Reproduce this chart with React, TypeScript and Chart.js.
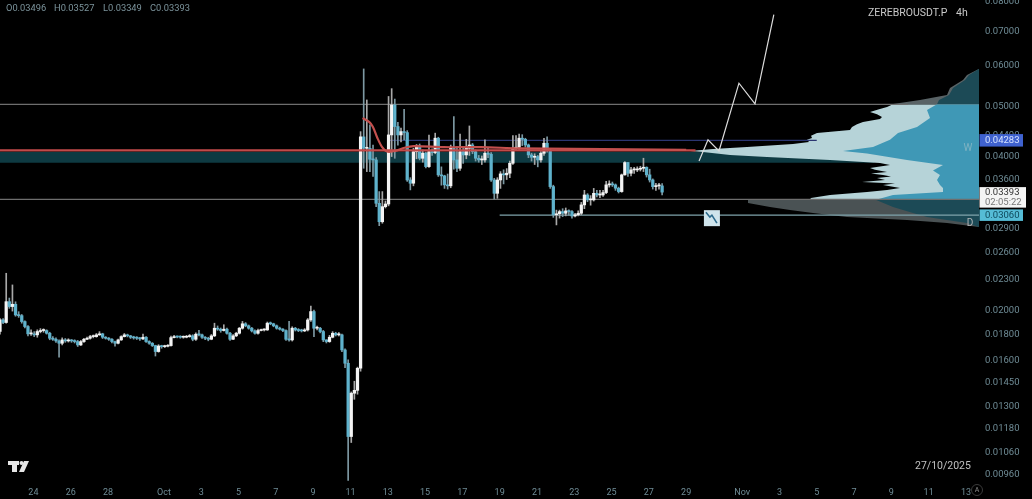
import React, { useEffect, useRef } from "react";
import { Chart, registerables } from "chart.js";

Chart.register(...registerables);

const firstOpen = 0.01816;
const closes = [
  0.01913, 0.01891, 0.02076, 0.02031, 0.02052, 0.01956, 0.0195, 0.01899, 0.01857, 0.01797,
  0.01797, 0.01789, 0.01816, 0.01824, 0.01824, 0.01802, 0.01762, 0.01754, 0.01741, 0.01723,
  0.01749, 0.01741, 0.01744, 0.01741, 0.01736, 0.0171, 0.01736, 0.01754, 0.01762, 0.01775,
  0.01775, 0.01789, 0.01797, 0.0177, 0.01762, 0.01754, 0.01736, 0.01723, 0.01749, 0.01775,
  0.01789, 0.01781, 0.0177, 0.01765, 0.01762, 0.01757, 0.0177, 0.01736, 0.01723, 0.01705,
  0.0166, 0.01702, 0.01697, 0.017, 0.01705, 0.01767, 0.01775, 0.01772, 0.0177, 0.0177,
  0.01775, 0.01781, 0.01754, 0.01794, 0.01789, 0.0177, 0.01762, 0.01754, 0.01781, 0.01843,
  0.01835, 0.01824, 0.01835, 0.01802, 0.01754, 0.01781, 0.01802, 0.01843, 0.0188, 0.01863,
  0.01843, 0.01821, 0.01802, 0.01824, 0.01829, 0.01829, 0.01885, 0.0188, 0.01863, 0.01843,
  0.01835, 0.01824, 0.01754, 0.01749, 0.01843, 0.01829, 0.01824, 0.01821, 0.01829, 0.01913,
  0.01986, 0.01843, 0.01843, 0.01816, 0.01749, 0.01736, 0.0177, 0.01802, 0.01789, 0.01789,
  0.01672, 0.01575, 0.01134, 0.01377, 0.01395, 0.0154, 0.04346, 0.0413, 0.0413, 0.03932,
  0.0392, 0.03227, 0.02971, 0.03179, 0.03217, 0.04385, 0.05016, 0.04552, 0.04385, 0.04451,
  0.04431, 0.03583, 0.03531, 0.04069, 0.04174, 0.03949, 0.04039, 0.03804, 0.04069, 0.04051,
  0.04321, 0.03666, 0.03649, 0.03505, 0.0349, 0.04149, 0.0392, 0.03776, 0.04069, 0.04009,
  0.0413, 0.04192, 0.04069, 0.03949, 0.0392, 0.0392, 0.04039, 0.04021, 0.03583, 0.03375,
  0.03583, 0.03682, 0.03666, 0.03693, 0.03862, 0.0413, 0.04149, 0.04321, 0.043, 0.04192,
  0.04009, 0.03967, 0.03979, 0.0392, 0.04039, 0.04224, 0.041, 0.03478, 0.03065, 0.03079,
  0.03109, 0.03086, 0.03119, 0.03109, 0.03049, 0.03065, 0.03086, 0.03204, 0.0335, 0.03277,
  0.03277, 0.03375, 0.0335, 0.0335, 0.03386, 0.03505, 0.03521, 0.03505, 0.03453, 0.03401,
  0.03666, 0.03874, 0.03693, 0.03748, 0.03748, 0.0376, 0.03776, 0.03793, 0.03666, 0.03583,
  0.03478, 0.03489, 0.03489, 0.03393,
];
const highs = [
  0.01925, 0.01925, 0.02358, 0.0211, 0.02238, 0.02075, 0.01985, 0.0196, 0.01905, 0.01865,
  0.0183, 0.01815, 0.0183, 0.0184, 0.01838, 0.0183, 0.0181, 0.01775, 0.01765, 0.0175,
  0.01765, 0.0176, 0.01758, 0.01752, 0.0175, 0.01745, 0.01745, 0.01762, 0.01772, 0.01785,
  0.01788, 0.018, 0.01815, 0.01802, 0.01775, 0.01768, 0.0176, 0.0174, 0.01755, 0.01782,
  0.018, 0.01795, 0.01785, 0.01778, 0.01775, 0.0177, 0.01795, 0.01775, 0.01742, 0.01728,
  0.01708, 0.01712, 0.01708, 0.01708, 0.01712, 0.0178, 0.01785, 0.0178, 0.01782, 0.0178,
  0.01785, 0.01792, 0.0179, 0.01805, 0.01825, 0.01795, 0.01775, 0.0177, 0.01792, 0.01885,
  0.01862, 0.01845, 0.01872, 0.01845, 0.0181, 0.01792, 0.0181, 0.0185, 0.019, 0.0189,
  0.0187, 0.0185, 0.0183, 0.01835, 0.01835, 0.01838, 0.01895, 0.01895, 0.01885, 0.0187,
  0.01852, 0.0184, 0.0183, 0.019, 0.01855, 0.0185, 0.0184, 0.01835, 0.0184, 0.01925,
  0.02036, 0.02, 0.0186, 0.0185, 0.01825, 0.0175, 0.01785, 0.01815, 0.0181, 0.01808,
  0.01795, 0.0168, 0.016, 0.01385, 0.01453, 0.01548, 0.0445, 0.05895, 0.0513, 0.0459,
  0.0419, 0.0396, 0.03401, 0.03401, 0.0326, 0.0521, 0.05396, 0.0515, 0.0464, 0.0452,
  0.04917, 0.0447, 0.0362, 0.0413, 0.042, 0.0421, 0.041, 0.0406, 0.0438, 0.0412,
  0.0442, 0.0434, 0.038, 0.0366, 0.0368, 0.0419, 0.0476, 0.0416, 0.044, 0.0413,
  0.043, 0.04565, 0.0422, 0.041, 0.04, 0.0399, 0.0429, 0.0415, 0.0405, 0.0361,
  0.0362, 0.0372, 0.0375, 0.0377, 0.039, 0.0437, 0.0437, 0.044, 0.0439, 0.0432,
  0.0421, 0.0404, 0.0403, 0.04, 0.0407, 0.0432, 0.0435, 0.0412, 0.035, 0.0313,
  0.0313, 0.0315, 0.0316, 0.03135, 0.03125, 0.03085, 0.0312, 0.0324, 0.0342, 0.0337,
  0.0334, 0.0345, 0.0342, 0.0342, 0.0342, 0.0356, 0.0357, 0.0355, 0.0352, 0.0347,
  0.0368, 0.0389, 0.0388, 0.0379, 0.0379, 0.038, 0.0381, 0.0395, 0.038, 0.0376,
  0.036, 0.0353, 0.0353, 0.03527,
];
const lows = [
  0.01795, 0.0188, 0.01885, 0.02015, 0.0199, 0.01945, 0.01935, 0.01885, 0.01845, 0.0178,
  0.01785, 0.01775, 0.0177, 0.01805, 0.0181, 0.01795, 0.0175, 0.01745, 0.0173, 0.01618,
  0.0171, 0.0173, 0.01732, 0.0173, 0.01725, 0.01698, 0.01705, 0.0173, 0.0175, 0.01755,
  0.01765, 0.0177, 0.01785, 0.0176, 0.01755, 0.01745, 0.01725, 0.017, 0.01718, 0.01745,
  0.01772, 0.01772, 0.0176, 0.01755, 0.01752, 0.01745, 0.0175, 0.0173, 0.01715, 0.01698,
  0.01627, 0.01655, 0.01685, 0.0169, 0.01695, 0.017, 0.01765, 0.01765, 0.01762, 0.01762,
  0.01765, 0.0177, 0.01742, 0.01745, 0.0178, 0.0176, 0.0175, 0.01742, 0.0175, 0.01775,
  0.01825, 0.0181, 0.0182, 0.01795, 0.01745, 0.0175, 0.01775, 0.01795, 0.01835, 0.01855,
  0.01835, 0.01812, 0.01795, 0.01795, 0.0182, 0.0182, 0.01825, 0.01872, 0.01855, 0.01835,
  0.01828, 0.01815, 0.01745, 0.0174, 0.0174, 0.0182, 0.01815, 0.01812, 0.01815, 0.0182,
  0.019, 0.01775, 0.0183, 0.01805, 0.01735, 0.01725, 0.0173, 0.01765, 0.0178, 0.0178,
  0.0166, 0.01545, 0.00931, 0.01104, 0.0134, 0.01371, 0.0152, 0.03776, 0.0372, 0.0372,
  0.0364, 0.0318, 0.02919, 0.02951, 0.0316, 0.0319, 0.0398, 0.03949, 0.0419, 0.0425,
  0.0429, 0.0356, 0.03427, 0.0349, 0.0394, 0.0392, 0.0388, 0.0378, 0.0379, 0.04,
  0.0403, 0.0364, 0.035, 0.0345, 0.0344, 0.0346, 0.0376, 0.0372, 0.0374, 0.0386,
  0.0394, 0.04, 0.0403, 0.039, 0.0388, 0.0384, 0.0388, 0.0396, 0.0356, 0.0329,
  0.033, 0.0345, 0.0352, 0.0359, 0.0362, 0.0384, 0.041, 0.0411, 0.0418, 0.0415,
  0.0396, 0.039, 0.0384, 0.038, 0.0388, 0.04, 0.0406, 0.0345, 0.0303, 0.02929,
  0.0302, 0.0304, 0.0305, 0.0306, 0.0302, 0.03035, 0.0305, 0.03065, 0.0315, 0.0325,
  0.032, 0.0326, 0.0332, 0.0331, 0.0333, 0.0337, 0.0347, 0.0348, 0.0342, 0.0338,
  0.0339, 0.0366, 0.0364, 0.0365, 0.0369, 0.0372, 0.0373, 0.0372, 0.0363, 0.0355,
  0.0344, 0.0342, 0.0344, 0.03349,
];
const opens = closes.map((_, i) => (i === 0 ? firstOpen : closes[i - 1]));

const maPrices = [0.0473, 0.0465, 0.0455, 0.0432, 0.0415, 0.0407, 0.0408, 0.0414, 0.0417, 0.0415, 0.0415, 0.0413, 0.0412, 0.0410];
const maDays = [10.65, 11.0, 11.2, 11.45, 11.7, 11.95, 12.4, 12.9, 13.4, 15, 17, 19, 22, 28];

const projectionDays = [28.69, 29.17, 29.76, 30.83, 31.69, 32.7];
const projectionPrices = [0.039, 0.0429, 0.0408, 0.0553, 0.0504, 0.0752];

const vaOuterPrices = [0.03284, 0.03306, 0.03351, 0.03396, 0.03425, 0.03458, 0.03504, 0.03528, 0.03552, 0.03584, 0.03616, 0.03640, 0.03665, 0.03690, 0.03715, 0.03750, 0.03782, 0.03833, 0.03868, 0.0392, 0.03973, 0.04009, 0.04063, 0.04082, 0.04118, 0.04155, 0.04212, 0.0425, 0.0429, 0.04327, 0.04370, 0.04425, 0.04484, 0.04545, 0.04600, 0.04648, 0.04711, 0.04754, 0.04810, 0.04862, 0.04920, 0.04972, 0.0503];
const vaOuterVolume = [84.5, 84, 74.5, 56, 46, 39.5, 48, 42, 58.5, 47, 51, 44, 48, 54, 46, 52, 54.5, 44.5, 49.5, 74.5, 106, 124.5, 138, 144.5, 133, 116, 93, 85, 86, 83.5, 84, 81, 64.5, 63.5, 61, 58, 49.5, 48.5, 51, 54.5, 50, 46, 43];
const vaInnerPrices = [0.03284, 0.03351, 0.03396, 0.03458, 0.03504, 0.03584, 0.03665, 0.03737, 0.03833, 0.0392, 0.04033, 0.04082, 0.04155, 0.04293, 0.04425, 0.04545, 0.04733, 0.04905, 0.0503];
const vaInnerVolume = [51, 43, 18, 18, 19.5, 21, 19.5, 23, 18, 36, 56, 68, 53, 44.5, 40.5, 31, 24.5, 26, 21];
const topOuterPrices = [0.0503, 0.05039, 0.0513, 0.05247, 0.05414, 0.05612, 0.05739, 0.05896];
const topOuterVolume = [43, 43, 29.5, 16, 14.5, 8, 6, 0];
const topInnerPrices = [0.0503, 0.0513, 0.05247, 0.05414, 0.05612, 0.05739, 0.05896];
const topInnerVolume = [21, 20, 15, 13, 7, 5, 0];
const lowOuterPrices = [0.02903, 0.02955, 0.02995, 0.03036, 0.03091, 0.03133, 0.03175, 0.03233, 0.03284];
const lowOuterVolume = [0, 16, 36, 66, 83, 94.5, 104.5, 115.5, 115.5];
const lowInnerPrices = [0.02903, 0.02955, 0.03036, 0.03091, 0.03175, 0.03284];
const lowInnerVolume = [0, 6, 26, 33, 43, 52];

const yTicks = [0.08, 0.07, 0.06, 0.05, 0.044, 0.04, 0.036, 0.029, 0.026, 0.023, 0.02, 0.018, 0.016, 0.0145, 0.013, 0.0118, 0.0106, 0.0096];
const xTickDays = [-7, -5, -3, 0, 2, 4, 6, 8, 10, 12, 14, 16, 18, 20, 22, 24, 26, 28, 31, 33, 35, 37, 39, 41, 43];
const xTickLabels = ["24", "26", "28", "Oct", "3", "5", "7", "9", "11", "13", "15", "17", "19", "21", "23", "25", "27", "29", "Nov", "3", "5", "7", "9", "11", "13"];

const FONT = "Roboto, Inter, sans-serif";
const minDay = -8.79;
const maxDay = 43.7;

const levelLine = (y: number, from: number, to: number, color: string, width: number, order: number) => ({
  type: "line",
  data: [{ x: from, y }, { x: to, y }],
  borderColor: color,
  borderWidth: width,
  pointRadius: 0,
  order,
});

const profile = (prices: number[], volume: number[], color: string, order: number) => ({
  type: "line",
  indexAxis: "y",
  xAxisID: "vp",
  yAxisID: "y",
  data: prices.map((p, i) => ({ x: volume[i], y: p })),
  borderWidth: 0,
  pointRadius: 0,
  backgroundColor: color,
  fill: "origin",
  order,
});

const overlay = {
  id: "overlay",
  afterDraw(chart: any) {
    const { ctx, scales } = chart;
    const y = scales.y;
    const x = scales.x;
    ctx.save();
    ctx.textBaseline = "middle";
    ctx.font = `9.5px ${FONT}`;
    const badge = (price: number, h: number, w: number, bg: string, fg: string, label: string) => {
      const py = y.getPixelForValue(price);
      ctx.fillStyle = bg;
      ctx.fillRect(979.5, py - h / 2, w, h);
      ctx.fillStyle = fg;
      ctx.textAlign = "left";
      ctx.fillText(label, 985, py + 0.5);
    };
    badge(0.0428, 12.5, 43.5, "#3f62cf", "#d5e2ff", "0.04283");
    badge(0.0306, 11.5, 43.5, "#55bcd6", "#0f4a5c", "0.03060");
    const py = y.getPixelForValue(0.03393);
    ctx.fillStyle = "#f4f4f4";
    ctx.fillRect(979.5, py - 5, 46.5, 20.5);
    ctx.fillStyle = "#333333";
    ctx.fillText("0.03393", 985, py + 0.5);
    ctx.fillStyle = "#777777";
    ctx.fillText("02:05:22", 985, py + 10.5);

    ctx.font = `10px ${FONT}`;
    ctx.textAlign = "center";
    ctx.fillStyle = "#7fb3c2";
    ctx.fillText("W", 968, y.getPixelForValue(0.0412));
    ctx.fillStyle = "#b0b5b7";
    ctx.fillText("D", 970, y.getPixelForValue(0.0295));

    // short-position drawing marker
    const mx = x.getPixelForValue(29.38);
    const my = y.getPixelForValue(0.0306);
    ctx.fillStyle = "#cfe4ec";
    ctx.fillRect(mx - 8, my - 5, 16, 16);
    ctx.strokeStyle = "#2c6a8c";
    ctx.lineWidth = 1.6;
    ctx.beginPath();
    ctx.moveTo(mx - 6, my - 3);
    ctx.lineTo(mx - 2, my + 2);
    ctx.lineTo(mx, my);
    ctx.lineTo(mx + 5, my + 8);
    ctx.stroke();

    // exchange logo
    ctx.fillStyle = "#e6e6e6";
    ctx.fillRect(8, 461, 11, 4);
    ctx.fillRect(12, 461, 5, 11);
    ctx.beginPath();
    ctx.arc(21.5, 463, 2, 0, Math.PI * 2);
    ctx.fill();
    ctx.beginPath();
    ctx.moveTo(24, 461);
    ctx.lineTo(29, 461);
    ctx.lineTo(24, 472);
    ctx.lineTo(19, 472);
    ctx.fill();

    // auto-scale button
    ctx.strokeStyle = "#3a3a3a";
    ctx.lineWidth = 1;
    ctx.beginPath();
    ctx.arc(977, 490, 5.5, 0, Math.PI * 2);
    ctx.stroke();
    ctx.fillStyle = "#8a8a8a";
    ctx.font = `7px ${FONT}`;
    ctx.fillText("A", 977, 490.5);
    ctx.restore();
  },
};

export default function App() {
  const ref = useRef<HTMLCanvasElement | null>(null);
  useEffect(() => {
    const canvas = ref.current!;
    const xs = closes.map((_, i) => minDay + i / 6);
    const chart = new Chart(canvas, {
      data: {
        datasets: [
          {
            type: "line",
            data: projectionDays.map((d, i) => ({ x: d, y: projectionPrices[i] })),
            borderColor: "#dcdcdc",
            borderWidth: 1.2,
            pointRadius: 0,
            order: 1,
          },
          {
            type: "line",
            data: maDays.map((d, i) => ({ x: d, y: maPrices[i] })),
            borderColor: "#c4504e",
            borderWidth: 2.2,
            pointRadius: 0,
            tension: 0.3,
            order: 2,
          },
          levelLine(0.04093, minDay, 28.5, "#c24a4a", 2.2, 3),
          {
            type: "bar",
            data: xs.map((x, i) => ({ x, y: [opens[i], closes[i]] })),
            barThickness: 2.6,
            grouped: false,
            minBarLength: 1,
            backgroundColor: (c: any) => (closes[c.dataIndex] >= opens[c.dataIndex] ? "#f4f4f4" : "#5fb2cc"),
            order: 4,
          },
          {
            type: "bar",
            data: xs.map((x, i) => ({ x, y: [lows[i], highs[i]] })),
            barThickness: 1,
            grouped: false,
            backgroundColor: (c: any) => (closes[c.dataIndex] >= opens[c.dataIndex] ? "#a8a8a8" : "#7d98a2"),
            order: 5,
          },
          levelLine(0.0428, 12.1, 35, "#2b3570", 1.2, 6),
          levelLine(0.0503, minDay, 39.9, "#6e6e6e", 1.2, 6),
          levelLine(0.03284, minDay, maxDay, "#6e6e6e", 1.2, 6),
          levelLine(0.0306, 18, maxDay, "#7fa3ab", 1.2, 6),
          profile(vaInnerPrices, vaInnerVolume, "#3f98b6", 7),
          profile(vaOuterPrices, vaOuterVolume, "#b6d3d8", 8),
          profile(topInnerPrices, topInnerVolume, "#1c4a56", 7),
          profile(topOuterPrices, topOuterVolume, "#596366", 8),
          profile(lowInnerPrices, lowInnerVolume, "#1c4a56", 7),
          profile(lowOuterPrices, lowOuterVolume, "#4a5254", 8),
          {
            type: "line",
            data: [{ x: minDay, y: 0.0406 }, { x: 38.1, y: 0.0406 }],
            borderWidth: 0,
            pointRadius: 0,
            backgroundColor: "#0e3a42",
            fill: { target: { value: 0.0387 } },
            order: 9,
          },
        ],
      } as any,
      options: {
        responsive: false,
        animation: false,
        layout: { padding: 0 },
        plugins: { legend: { display: false }, tooltip: { enabled: false } },
        events: [],
        scales: {
          x: {
            type: "linear",
            position: "bottom",
            offset: false,
            min: minDay,
            max: maxDay,
            grid: { display: false, drawTicks: false },
            border: { display: false },
            afterBuildTicks: (s: any) => {
              s.ticks = xTickDays.map((value) => ({ value }));
            },
            afterFit: (s: any) => {
              s.height = 18;
              s.paddingLeft = 0;
              s.paddingRight = 0;
            },
            ticks: {
              autoSkip: false,
              maxRotation: 0,
              padding: 6,
              color: "#6f8c96",
              font: { family: FONT, size: 9 },
              callback: (_: any, i: number) => xTickLabels[i],
            },
          },
          y: {
            type: "logarithmic",
            position: "right",
            min: 0.00929,
            max: 0.0803,
            grid: { display: false, drawTicks: false },
            border: { display: false },
            afterBuildTicks: (s: any) => {
              s.ticks = yTicks.map((value) => ({ value }));
            },
            afterFit: (s: any) => {
              s.width = 53;
              s.paddingTop = 0;
              s.paddingBottom = 0;
            },
            ticks: {
              autoSkip: false,
              padding: 6,
              labelOffset: 1,
              color: "#6f8c96",
              font: { family: FONT, size: 9.5 },
              callback: (v: any) => Number(v).toFixed(5),
            },
          },
          vp: {
            type: "linear",
            display: false,
            axis: "x",
            position: "top",
            reverse: true,
            min: 0,
            max: 489.5,
          },
        },
      } as any,
      plugins: [overlay],
    } as any);
    return () => chart.destroy();
  }, []);

  const label = (text: string, left: number, top: number, color: string, size = 9.3) => (
    <span style={{ position: "absolute", left, top, color, fontSize: size, fontFamily: FONT, whiteSpace: "pre", lineHeight: "14px" }}>{text}</span>
  );

  return (
    <div style={{ position: "fixed", inset: 0, background: "#000", width: 1032, height: 499, overflow: "hidden", filter: "blur(0.4px)" }}>
      <canvas ref={ref} width={1032} height={499} style={{ display: "block" }} />
      {label("O0.03496", 6, 1, "#7c949c")}
      {label("H0.03527", 54, 1, "#7c949c")}
      {label("L0.03349", 103, 1, "#7c949c")}
      {label("C0.03393", 150, 1, "#7c949c")}
      {label("ZEREBROUSDT.P", 868, 6, "#c8c8c8", 10.5)}
      {label("4h", 956, 6, "#c8c8c8", 10.5)}
      {label("27/10/2025", 915, 459, "#c0c0c0", 10.5)}
    </div>
  );
}
